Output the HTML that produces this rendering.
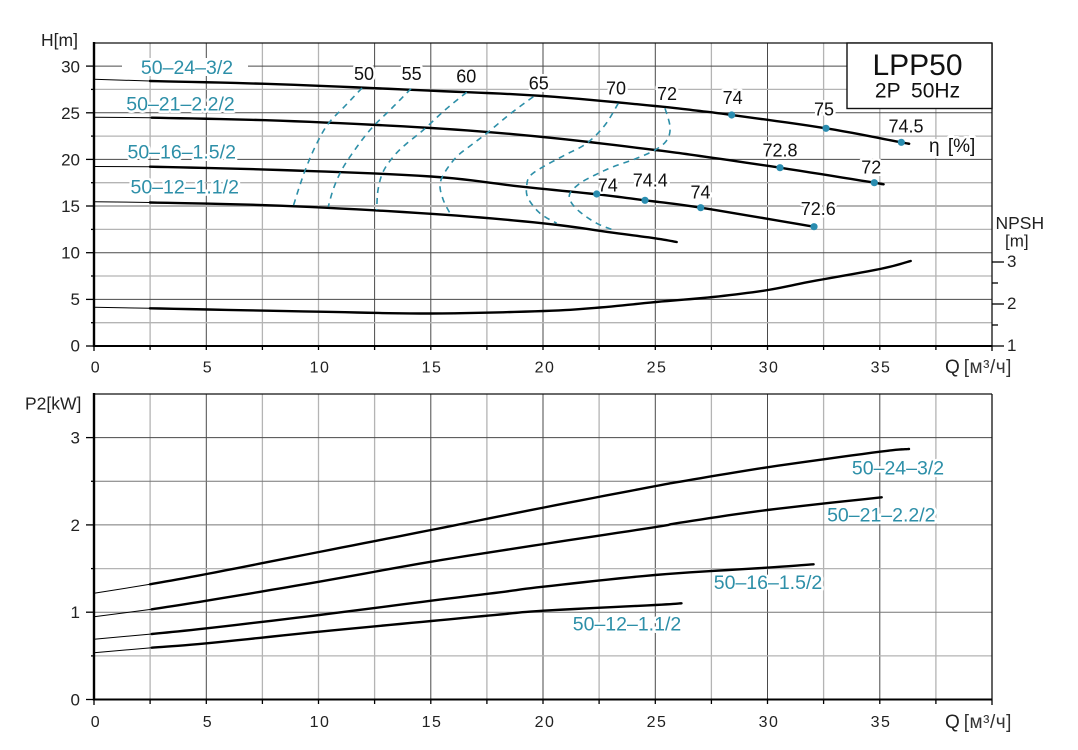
<!DOCTYPE html>
<html><head><meta charset="utf-8"><style>
html,body{margin:0;padding:0;background:#fff;}
svg{display:block;font-family:"Liberation Sans",Arial,sans-serif;}
.h{paint-order:stroke;stroke:#fff;stroke-width:5px;stroke-linejoin:round;}
.t{fill:#2d8fa8;font-size:19.5px;}
.k{fill:#111;font-size:18px;}
.tk{fill:#222;font-size:17px;}
.xt{fill:#222;font-size:16px;letter-spacing:1.5px;}
.gM{stroke:#4a4a4a;stroke-width:1;}
.gm{stroke:#b4b4b4;stroke-width:1.3;}
.cv{fill:none;stroke:#000;stroke-width:2.4;stroke-linejoin:round;stroke-linecap:round;}
.th{fill:none;stroke:#000;stroke-width:1;}
.ds{fill:none;stroke:#2d8fa8;stroke-width:1.6;stroke-dasharray:6 5;}
.dot{fill:#2a8db0;}
</style></head><body>
<svg width="1078" height="750" viewBox="0 0 1078 750" xmlns="http://www.w3.org/2000/svg">
<rect width="1078" height="750" fill="#fff"/>

<!-- ===== TOP CHART GRID ===== -->
<g>
<line class="gm" x1="150.1" y1="43" x2="150.1" y2="346"/>
<line class="gM" x1="206.3" y1="43" x2="206.3" y2="346"/>
<line class="gm" x1="262.4" y1="43" x2="262.4" y2="346"/>
<line class="gm" x1="318.5" y1="43" x2="318.5" y2="346"/>
<line class="gM" x1="374.6" y1="43" x2="374.6" y2="346"/>
<line class="gM" x1="430.8" y1="43" x2="430.8" y2="346"/>
<line class="gm" x1="486.9" y1="43" x2="486.9" y2="346"/>
<line class="gM" x1="543" y1="43" x2="543" y2="346"/>
<line class="gm" x1="599.1" y1="43" x2="599.1" y2="346"/>
<line class="gM" x1="655.3" y1="43" x2="655.3" y2="346"/>
<line class="gm" x1="711.4" y1="43" x2="711.4" y2="346"/>
<line class="gM" x1="767.5" y1="43" x2="767.5" y2="346"/>
<line class="gm" x1="823.6" y1="43" x2="823.6" y2="346"/>
<line class="gm" x1="879.8" y1="43" x2="879.8" y2="346"/>
<line class="gm" x1="935.9" y1="43" x2="935.9" y2="346"/>

<line class="gm" x1="94" y1="322.7" x2="992" y2="322.7"/>
<line class="gM" x1="94" y1="299.4" x2="992" y2="299.4"/>
<line class="gm" x1="94" y1="276" x2="992" y2="276"/>
<line class="gM" x1="94" y1="252.7" x2="992" y2="252.7"/>
<line class="gm" x1="94" y1="229.4" x2="992" y2="229.4"/>
<line class="gm" x1="94" y1="206" x2="992" y2="206" style="stroke-width:2"/>
<line class="gm" x1="94" y1="182.7" x2="992" y2="182.7"/>
<line class="gM" x1="94" y1="159.4" x2="992" y2="159.4"/>
<line class="gm" x1="94" y1="136.1" x2="992" y2="136.1"/>
<line class="gM" x1="94" y1="112.8" x2="992" y2="112.8"/>
<line class="gm" x1="94" y1="89.4" x2="992" y2="89.4"/>
<line class="gM" x1="94" y1="66.1" x2="992" y2="66.1"/>
</g>

<!-- top frame -->
<line x1="94" y1="43" x2="992" y2="43" stroke="#111" stroke-width="1.3"/>
<line x1="992" y1="43" x2="992" y2="346" stroke="#111" stroke-width="1.3"/>
<line x1="94" y1="42" x2="94" y2="347" stroke="#000" stroke-width="2.4"/>
<line x1="93" y1="346" x2="992" y2="346" stroke="#000" stroke-width="2"/>

<!-- left ticks top -->
<g stroke="#000" stroke-width="1.3">
<line x1="86" y1="346" x2="94" y2="346"/>
<line x1="86" y1="299.4" x2="94" y2="299.4"/>
<line x1="86" y1="252.7" x2="94" y2="252.7"/>
<line x1="86" y1="206" x2="94" y2="206"/>
<line x1="86" y1="159.4" x2="94" y2="159.4"/>
<line x1="86" y1="112.8" x2="94" y2="112.8"/>
<line x1="86" y1="66.1" x2="94" y2="66.1"/>
<line x1="91" y1="322.7" x2="94" y2="322.7"/>
<line x1="91" y1="276" x2="94" y2="276"/>
<line x1="91" y1="229.4" x2="94" y2="229.4"/>
<line x1="91" y1="182.7" x2="94" y2="182.7"/>
<line x1="91" y1="136.1" x2="94" y2="136.1"/>
<line x1="91" y1="89.4" x2="94" y2="89.4"/>
</g>
<!-- bottom ticks top chart -->
<g stroke="#000" stroke-width="1.3">
<line x1="94" y1="346" x2="94" y2="351"/>
<line x1="150.1" y1="346" x2="150.1" y2="350"/>
<line x1="206.3" y1="346" x2="206.3" y2="350"/>
<line x1="262.4" y1="346" x2="262.4" y2="350"/>
<line x1="318.5" y1="346" x2="318.5" y2="350"/>
<line x1="374.6" y1="346" x2="374.6" y2="350"/>
<line x1="430.8" y1="346" x2="430.8" y2="350"/>
<line x1="486.9" y1="346" x2="486.9" y2="350"/>
<line x1="543" y1="346" x2="543" y2="350"/>
<line x1="599.1" y1="346" x2="599.1" y2="350"/>
<line x1="655.3" y1="346" x2="655.3" y2="350"/>
<line x1="711.4" y1="346" x2="711.4" y2="350"/>
<line x1="767.5" y1="346" x2="767.5" y2="350"/>
<line x1="823.6" y1="346" x2="823.6" y2="350"/>
<line x1="879.8" y1="346" x2="879.8" y2="350"/>
<line x1="935.9" y1="346" x2="935.9" y2="350"/>
<line x1="992" y1="346" x2="992" y2="351"/>
</g>
<!-- NPSH ticks -->
<g stroke="#000" stroke-width="1.3">
<line x1="992" y1="346" x2="1004" y2="346"/>
<line x1="992" y1="325" x2="998" y2="325"/>
<line x1="992" y1="304" x2="1004" y2="304"/>
<line x1="992" y1="283" x2="998" y2="283"/>
<line x1="992" y1="262" x2="1004" y2="262"/>
</g>

<!-- top tick labels -->
<g class="tk" text-anchor="end">
<text x="80" y="351.5">0</text>
<text x="80" y="305">5</text>
<text x="80" y="258.5">10</text>
<text x="80" y="212">15</text>
<text x="80" y="165.5">20</text>
<text x="80" y="119">25</text>
<text x="80" y="72.5">30</text>
</g>
<text class="tk" x="41" y="46" style="font-size:17.5px">H[m]</text>
<g class="xt" text-anchor="middle">
<text x="96" y="372.5">0</text>
<text x="208" y="372.5">5</text>
<text x="320" y="372.5">10</text>
<text x="432" y="372.5">15</text>
<text x="545" y="372.5">20</text>
<text x="657" y="372.5">25</text>
<text x="769" y="372.5">30</text>
<text x="881" y="372.5">35</text>
</g>
<text class="tk" x="945" y="373" style="font-size:19px">Q<tspan dx="4" fill="#333" style="letter-spacing:0.5px">[м³/ч]</tspan></text>
<text class="tk" x="995.5" y="229" style="font-size:17.5px">NPSH</text>
<text class="tk" x="1005" y="246.5" style="font-size:17px">[m]</text>
<g class="tk">
<text x="1007" y="267">3</text>
<text x="1007" y="309">2</text>
<text x="1007" y="351">1</text>
</g>

<!-- pump labels top -->
<rect x="122" y="58" width="126" height="18" fill="#fff"/>
<g class="t h" text-anchor="middle">
<text x="187" y="74">50–24–3/2</text>
<text x="180.5" y="110.7">50–21–2.2/2</text>
<text x="181.7" y="158.3">50–16–1.5/2</text>
<text x="184.7" y="193.3">50–12–1.1/2</text>
</g>

<!-- H curves -->
<polyline class="th" points="94,79.3 150,81"/>
<polyline class="cv sm" points="150,81 280,84.3 431,90.7 543,96 655,106 700,111 731.7,115 826,128.3 901,142.3 908,143.5"/>
<polyline class="th" points="94,117.3 151.7,117.7"/>
<polyline class="cv sm" points="151.7,117.7 280,120.7 431,128 543,137 655,150 700,156 780,167.7 874.3,182.7 881,184"/>
<polyline class="th" points="94,166.5 150,166.7"/>
<polyline class="cv sm" points="150,166.7 280,170 431,176.5 522,186.7 596.7,194.3 645,200.3 700.7,207.7 814,226.7"/>
<polyline class="th" points="94,201.7 150,202.5"/>
<polyline class="cv sm" points="150,202.5 280,205.7 431,213.8 543,223.3 613,232.7 655,238.3 676.7,242"/>

<!-- NPSH curve -->
<polyline class="th" points="94,307.3 150,308.3"/>
<polyline class="cv sm" points="150,308.3 319,311.7 431,313.5 544,311 600,307.5 656,302 713,297 768,290 810,281.7 880,269 910.7,261"/>

<!-- efficiency iso curves -->
<polyline class="ds sm" points="362,88 345,106 328,124 316,145 306,168 299,188 293,207"/>
<polyline class="ds sm" points="411,88.7 392,108 370,130 350,156.7 340,173.3 333,190 328.3,206.7"/>
<polyline class="ds sm" points="466.7,92.3 445,110 423.3,130 405,145 393.3,156.7 383,172 378,190 376.7,210"/>
<polyline class="ds sm" points="533.3,96.7 510,114 486.7,133.3 470,146 456.7,156.7 445,172 440,185 443.3,200 450,213.3"/>
<polyline class="ds sm" points="618.3,103.3 605,125 586.7,143.3 565,155 543.3,166.7 530,176 526.7,186 528,198 540,213.3 556.7,223.3"/>
<polyline class="ds sm" points="665,108.3 670,126.7 667,140 655,150 635,159 613.3,166.7 595,175 580,183.3 570,193.3 571,202 580,212 596.7,223.3 613.3,230"/>

<!-- iso labels -->
<g class="k h" text-anchor="middle">
<text x="364" y="80">50</text>
<text x="411.7" y="80">55</text>
<text x="466.3" y="82.3">60</text>
<text x="538.8" y="89.3">65</text>
<text x="616" y="94.3">70</text>
<text x="667" y="100">72</text>
<text x="732.7" y="104">74</text>
<text x="824" y="115.7">75</text>
<text x="906" y="132.7">74.5</text>
<text x="780" y="156.7">72.8</text>
<text x="871.3" y="173.3">72</text>
<text x="607.8" y="191.7">74</text>
<text x="650.3" y="186.7">74.4</text>
<text x="700.5" y="198.3">74</text>
<text x="818.3" y="215">72.6</text>
</g>
<text class="k h" x="929" y="152" style="font-size:19px;word-spacing:3px">η [%]</text>

<!-- dots -->
<g class="dot">
<circle cx="731.7" cy="115" r="3.6"/>
<circle cx="826" cy="128.3" r="3.6"/>
<circle cx="901.3" cy="142.3" r="3.6"/>
<circle cx="780" cy="167.7" r="3.6"/>
<circle cx="874.3" cy="182.7" r="3.6"/>
<circle cx="596.7" cy="194" r="3.6"/>
<circle cx="645" cy="200.3" r="3.6"/>
<circle cx="700.7" cy="207.7" r="3.6"/>
<circle cx="814" cy="226.7" r="3.6"/>
</g>

<!-- title box -->
<rect x="847" y="43" width="145" height="65.5" fill="#fff" stroke="#111" stroke-width="1.4"/>
<text x="917.5" y="75" text-anchor="middle" style="font-size:30px" fill="#111">LPP50</text>
<text x="917.5" y="97.5" text-anchor="middle" style="font-size:21px;word-spacing:5px" fill="#111">2P  50Hz</text>

<!-- ===== BOTTOM CHART ===== -->
<g>
<line class="gm" x1="150.1" y1="394" x2="150.1" y2="699.5"/>
<line class="gM" x1="206.3" y1="394" x2="206.3" y2="699.5"/>
<line class="gm" x1="262.4" y1="394" x2="262.4" y2="699.5"/>
<line class="gm" x1="318.5" y1="394" x2="318.5" y2="699.5"/>
<line class="gm" x1="374.6" y1="394" x2="374.6" y2="699.5"/>
<line class="gM" x1="430.8" y1="394" x2="430.8" y2="699.5"/>
<line class="gm" x1="486.9" y1="394" x2="486.9" y2="699.5"/>
<line class="gM" x1="543" y1="394" x2="543" y2="699.5"/>
<line class="gm" x1="599.1" y1="394" x2="599.1" y2="699.5"/>
<line class="gM" x1="655.3" y1="394" x2="655.3" y2="699.5"/>
<line class="gm" x1="711.4" y1="394" x2="711.4" y2="699.5"/>
<line class="gM" x1="767.5" y1="394" x2="767.5" y2="699.5"/>
<line class="gm" x1="823.6" y1="394" x2="823.6" y2="699.5"/>
<line class="gM" x1="879.8" y1="394" x2="879.8" y2="699.5"/>
<line class="gm" x1="935.9" y1="394" x2="935.9" y2="699.5"/>

<line class="gm" x1="94" y1="655.9" x2="992" y2="655.9"/>
<line class="gM" x1="94" y1="612.2" x2="992" y2="612.2" style="stroke:#777"/>
<line class="gm" x1="94" y1="568.6" x2="992" y2="568.6"/>
<line class="gM" x1="94" y1="524.9" x2="992" y2="524.9" style="stroke:#777"/>
<line class="gM" x1="94" y1="481.3" x2="992" y2="481.3" style="stroke:#777"/>
<line class="gM" x1="94" y1="437.6" x2="992" y2="437.6"/>
</g>
<line x1="94" y1="394" x2="992" y2="394" stroke="#111" stroke-width="1.3"/>
<line x1="992" y1="394" x2="992" y2="699.5" stroke="#111" stroke-width="1.3"/>
<line x1="94" y1="393" x2="94" y2="700.5" stroke="#000" stroke-width="2.4"/>
<line x1="93" y1="699.5" x2="992" y2="699.5" stroke="#000" stroke-width="2"/>

<g stroke="#000" stroke-width="1.3">
<line x1="86" y1="699.5" x2="94" y2="699.5"/>
<line x1="86" y1="612.2" x2="94" y2="612.2"/>
<line x1="86" y1="524.9" x2="94" y2="524.9"/>
<line x1="86" y1="437.6" x2="94" y2="437.6"/>
<line x1="91" y1="655.9" x2="94" y2="655.9"/>
<line x1="91" y1="568.6" x2="94" y2="568.6"/>
<line x1="91" y1="481.3" x2="94" y2="481.3"/>
</g>
<g stroke="#000" stroke-width="1.3">
<line x1="94" y1="699.5" x2="94" y2="705"/>
<line x1="150.1" y1="699.5" x2="150.1" y2="704"/>
<line x1="206.3" y1="699.5" x2="206.3" y2="704"/>
<line x1="262.4" y1="699.5" x2="262.4" y2="704"/>
<line x1="318.5" y1="699.5" x2="318.5" y2="704"/>
<line x1="374.6" y1="699.5" x2="374.6" y2="704"/>
<line x1="430.8" y1="699.5" x2="430.8" y2="704"/>
<line x1="486.9" y1="699.5" x2="486.9" y2="704"/>
<line x1="543" y1="699.5" x2="543" y2="704"/>
<line x1="599.1" y1="699.5" x2="599.1" y2="704"/>
<line x1="655.3" y1="699.5" x2="655.3" y2="704"/>
<line x1="711.4" y1="699.5" x2="711.4" y2="704"/>
<line x1="767.5" y1="699.5" x2="767.5" y2="704"/>
<line x1="823.6" y1="699.5" x2="823.6" y2="704"/>
<line x1="879.8" y1="699.5" x2="879.8" y2="704"/>
<line x1="935.9" y1="699.5" x2="935.9" y2="704"/>
<line x1="992" y1="699.5" x2="992" y2="705"/>
</g>

<g class="tk" text-anchor="end">
<text x="80" y="705.5">0</text>
<text x="80" y="618.2">1</text>
<text x="80" y="530.9">2</text>
<text x="80" y="443.6">3</text>
</g>
<text class="tk" x="25" y="409.5" style="font-size:17.5px">P2[kW]</text>
<g class="xt" text-anchor="middle">
<text x="96" y="727">0</text>
<text x="208" y="727">5</text>
<text x="320" y="727">10</text>
<text x="432" y="727">15</text>
<text x="545" y="727">20</text>
<text x="657" y="727">25</text>
<text x="769" y="727">30</text>
<text x="881" y="727">35</text>
</g>
<text class="tk" x="945" y="728" style="font-size:19px">Q<tspan dx="4" fill="#333" style="letter-spacing:0.5px">[м³/ч]</tspan></text>

<!-- P2 curves -->
<polyline class="th" points="94,593.3 150,584.3"/>
<polyline class="cv sm" points="150,584.3 206.7,574 319,552 431,530 544,507.5 656,486 680,481.7 767.3,467.3 880,451.7 909,449"/>
<polyline class="th" points="94,616.7 151.7,609.3"/>
<polyline class="cv sm" points="151.7,609.3 206.7,600.7 319.3,581.7 431.3,561.7 544,544 656,527 680,522.7 767.3,510 881.7,497.3"/>
<polyline class="th" points="94,639.3 151.7,634"/>
<polyline class="cv sm" points="151.7,634 206.7,628.3 319.3,615 431.3,600.7 500,592.3 543.4,586.7 655,575 766.5,567.7 813.6,564.3"/>
<polyline class="th" points="94,652.7 151.7,647.7"/>
<polyline class="cv sm" points="151.7,647.7 206.7,643.3 319.3,631.7 431.3,621 500,614.5 543.4,610.7 655,605 681.5,603.3"/>

<g class="t h" text-anchor="middle">
<text x="898" y="474.3">50–24–3/2</text>
<text x="881.3" y="521.7">50–21–2.2/2</text>
<text x="768" y="589">50–16–1.5/2</text>
<text x="627" y="630.7">50–12–1.1/2</text>
</g>
</svg>
<script>
(function(){
  try{
    var pls=document.querySelectorAll('polyline.sm');
    for(var i=0;i<pls.length;i++){
      var pl=pls[i];
      var raw=pl.getAttribute('points').trim().split(/\s+/);
      var P=raw.map(function(s){var a=s.split(',');return [parseFloat(a[0]),parseFloat(a[1])];});
      if(P.length<3) continue;
      var out=[];
      var n=P.length;
      for(var k=0;k<n-1;k++){
        var p0=P[k>0?k-1:0],p1=P[k],p2=P[k+1],p3=P[k+2<n?k+2:n-1];
        var steps=10;
        for(var s=0;s<steps;s++){
          var t=s/steps,t2=t*t,t3=t2*t;
          var x=0.5*((2*p1[0])+(-p0[0]+p2[0])*t+(2*p0[0]-5*p1[0]+4*p2[0]-p3[0])*t2+(-p0[0]+3*p1[0]-3*p2[0]+p3[0])*t3);
          var y=0.5*((2*p1[1])+(-p0[1]+p2[1])*t+(2*p0[1]-5*p1[1]+4*p2[1]-p3[1])*t2+(-p0[1]+3*p1[1]-3*p2[1]+p3[1])*t3);
          out.push(x.toFixed(2)+','+y.toFixed(2));
        }
      }
      out.push(P[n-1][0]+','+P[n-1][1]);
      pl.setAttribute('points',out.join(' '));
    }
  }catch(e){}
})();
</script>
</body></html>
